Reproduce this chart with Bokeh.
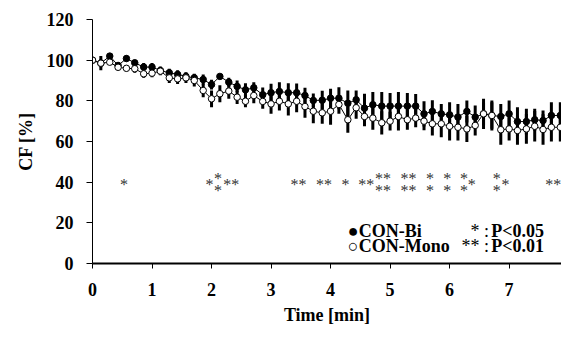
from bokeh.plotting import figure
from bokeh.models import Range1d, FixedTicker, Label, ColumnDataSource
from bokeh.core.properties import value
from bokeh.embed import file_html
from bokeh.resources import INLINE

# ---------------- data ----------------
time_min = [0.00, 0.14, 0.29, 0.43, 0.57, 0.71, 0.86, 1.00, 1.14, 1.29, 1.43, 1.57, 1.71, 1.86,
            2.00, 2.14, 2.29, 2.43, 2.57, 2.71, 2.86, 3.00, 3.14, 3.29, 3.43, 3.57, 3.71, 3.86,
            4.00, 4.14, 4.29, 4.43, 4.57, 4.71, 4.86, 5.00, 5.14, 5.29, 5.43, 5.57, 5.71, 5.86,
            6.00, 6.14, 6.29, 6.43, 6.57, 6.71, 6.86, 7.00, 7.14, 7.29, 7.43, 7.57, 7.71, 7.86]

con_bi = [100, 98.5, 102, 97.4, 100.8, 98.7, 96.6, 96.6, 94.9, 93.8, 93, 92, 91.3, 90.5,
          88, 92, 89.2, 87.1, 85.4, 86.4, 83, 84, 84.6, 84, 84, 82.6, 80.2, 80.3,
          81.3, 81.3, 78.8, 80.5, 76.4, 78.1, 77.4, 77.4, 77.4, 77.4, 77.4, 73.6, 74.8, 73.6,
          73.1, 72, 74.8, 72, 73.6, 72.8, 72.3, 73.6, 69.8, 69.8, 70.7, 70.3, 72.8, 72.8]
con_bi_err = [0, 2, 1, 1.5, 1.5, 1.5, 2, 2, 2, 2, 2, 2, 2, 2.5,
              2.4, 1.3, 2.1, 2.9, 3.3, 2.8, 3.5, 4.4, 4.5, 4.7, 4.5, 3.8, 3.4, 4.6,
              4.6, 5.4, 6.3, 4.6, 7.1, 6.2, 6.9, 6.4, 6.9, 6.4, 5.9, 6.2, 5.5, 4.9,
              6.2, 6.5, 5.4, 5.7, 5.7, 6.5, 6.2, 6.6, 7.1, 6.3, 5.4, 5, 6.5, 6.5]

con_mono = [100, 98.5, 99, 96.5, 96, 95.8, 93.3, 93.6, 94.6, 91.3, 90.8, 91.3, 90, 85.1,
            81, 83.5, 84.8, 81.8, 79.8, 82.6, 79.7, 78.5, 79.8, 78.5, 79.8, 77.2, 74.9, 74.1,
            74.9, 78.2, 70.7, 76.6, 72.3, 71.5, 69.2, 70, 72.3, 70.7, 71.5, 70, 68.7, 68.7,
            67.5, 67, 66.2, 67.9, 73.6, 72.8, 65.8, 66.2, 65.4, 66.2, 67.5, 65.9, 67, 67]
con_mono_err = [0, 3.5, 1, 1.5, 1.5, 2, 2, 2, 2, 2.5, 2.5, 2.5, 3, 3.3,
                4.1, 4.2, 3.8, 3.3, 2.9, 3.8, 3.6, 4.9, 4.5, 5.7, 5.4, 5.5, 5.9, 5.4,
                6.7, 4.6, 6.4, 5.4, 4.8, 5.7, 5.7, 4.6, 6.9, 4.9, 4.5, 4.5, 5.7, 6.6,
                7, 6.5, 6.5, 4.9, 7.4, 7.4, 7.4, 5.7, 7, 7.3, 7.5, 7.5, 7, 7]

sig_x = [0.53, 1.965, 2.11, 2.11, 2.33, 3.46, 3.89, 4.25, 4.6, 4.88, 4.88, 5.31, 5.31,
         5.67, 5.67, 5.96, 5.96, 6.24, 6.24, 6.37, 6.79, 6.79, 6.94, 7.74]
sig_y = [40, 40, 43, 37, 40, 40, 40, 40, 40, 43, 37, 43, 37,
         43, 37, 43, 37, 43, 37, 40, 43, 37, 40, 40]
sig_text = ["*", "*", "*", "*", "**", "**", "**", "*", "**", "**", "**", "**", "**",
            "*", "*", "*", "*", "*", "*", "*", "*", "*", "*", "**"]

x_ticks = [0, 1, 2, 3, 4, 5, 6, 7]
y_ticks = [0, 20, 40, 60, 80, 100, 120]

FONT = "Liberation Serif"

# ---------------- figure ----------------
p = figure(width=561, height=329, x_range=Range1d(0, 7.88), y_range=Range1d(0, 120),
           output_backend="svg", toolbar_location=None,
           min_border_left=92, min_border_right=0, min_border_top=19, min_border_bottom=66)
p.outline_line_color = None
p.grid.visible = False
p.background_fill_color = "white"
p.border_fill_color = "white"

src = ColumnDataSource(dict(
    t=time_min, bi=con_bi, mono=con_mono,
    bi_lo=[v - e for v, e in zip(con_bi, con_bi_err)],
    bi_hi=[v + e for v, e in zip(con_bi, con_bi_err)],
    mono_lo=[v - e for v, e in zip(con_mono, con_mono_err)],
    mono_hi=[v + e for v, e in zip(con_mono, con_mono_err)],
))

p.segment(x0="t", y0="bi_lo", x1="t", y1="bi_hi", source=src, line_color="black", line_width=3)
p.segment(x0="t", y0="mono_lo", x1="t", y1="mono_hi", source=src, line_color="black", line_width=3)
p.line("t", "bi", source=src, line_color="black", line_width=1)
p.line("t", "mono", source=src, line_color="black", line_width=1)
p.scatter("t", "bi", source=src, size=6.5, marker="circle", fill_color="black", line_color="black")
p.scatter("t", "mono", source=src, size=6.5, marker="circle", fill_color="white",
          line_color="black", line_width=1)

sig_src = ColumnDataSource(dict(x=sig_x, y=sig_y, text=sig_text))
p.text(x="x", y="y", text="text", source=sig_src, text_font=value(FONT),
       text_font_size="16px", text_align="center", text_baseline="middle",
       text_color="#333333", y_offset=2)

# legend texts
for txt, yy in (("\u25cfCON-Bi", 15.9), ("\u25cbCON-Mono", 8.5)):
    p.add_layout(Label(x=4.29, y=yy, text=txt, text_font=FONT, text_font_size="18px",
                       text_font_style="bold", text_align="left", text_baseline="alphabetic",
                       text_color="black"))
for star, ptxt, yy in (("* :", "P<0.05", 15.9), ("** :", "P<0.01", 8.5)):
    p.add_layout(Label(x=6.66, y=yy, text=star, text_font=FONT, text_font_size="18px",
                       text_align="right", text_baseline="alphabetic", text_color="black"))
    p.add_layout(Label(x=6.70, y=yy, text=ptxt, text_font=FONT, text_font_size="18px",
                       text_font_style="bold", text_align="left", text_baseline="alphabetic",
                       text_color="black"))

# axes
for ax in (p.xaxis[0], p.yaxis[0]):
    ax.major_label_text_font = FONT
    ax.major_label_text_font_style = "bold"
    ax.major_label_text_font_size = "18px"
    ax.major_label_text_color = "black"
    ax.axis_label_text_font = FONT
    ax.axis_label_text_font_style = "bold"
    ax.axis_label_text_font_size = "18px"
    ax.axis_label_text_color = "black"
    ax.axis_line_color = "black"
    ax.major_tick_line_color = "black"
    ax.major_tick_in = 0
    ax.minor_tick_line_color = None

p.xaxis.ticker = FixedTicker(ticks=x_ticks)
p.yaxis.ticker = FixedTicker(ticks=y_ticks)
p.xaxis.axis_label = "Time [min]"
p.yaxis.axis_label = "CF [%]"
p.xaxis.axis_line_width = 2
p.yaxis.axis_line_width = 1
p.xaxis.major_tick_out = 5
p.yaxis.major_tick_out = 6
p.xaxis.major_label_standoff = 14
p.yaxis.major_label_standoff = 13
p.xaxis.axis_label_standoff = 6
p.yaxis.axis_label_standoff = 8

open("out.html", "w").write(file_html(p, INLINE))
